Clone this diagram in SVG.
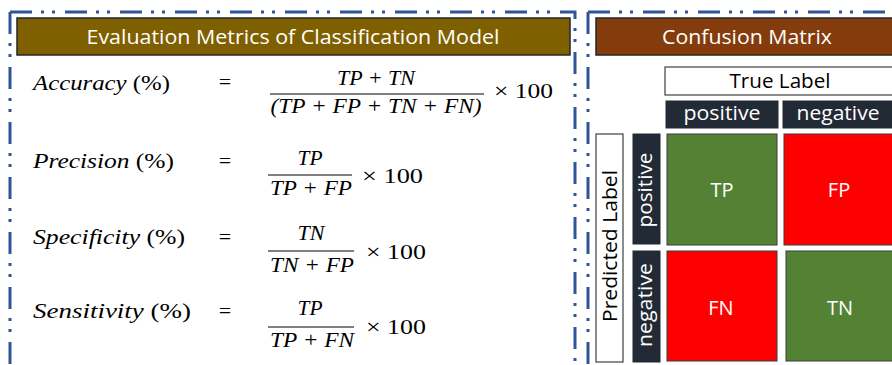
<svg xmlns="http://www.w3.org/2000/svg" width="892" height="365" viewBox="0 0 892 365">
<style>
.panel{fill:none;stroke:#2f5597;stroke-width:3;stroke-dasharray:22 9 3 8 3 10}
.hdr{stroke:#262626;stroke-width:1.5}
.ht{font-family:"Open Sans","Liberation Sans",sans-serif;font-size:20px;fill:#fff;text-anchor:middle}
.lbl{font-family:"Open Sans","Liberation Sans",sans-serif;font-size:20px;fill:#000;text-anchor:middle}
.dk{fill:#222a35;stroke:#222a35;stroke-width:1}
.wt{fill:#fff;stroke:#404040;stroke-width:1.2}
.dt{font-family:"Open Sans","Liberation Sans",sans-serif;font-size:20px;fill:#fff;text-anchor:middle}
.g{fill:#548235;stroke:#3a3a3a;stroke-width:1}
.r{fill:#ff0000;stroke:#3a3a3a;stroke-width:1}
.ct{font-family:"Open Sans","Liberation Sans",sans-serif;font-size:20px;fill:#fff;text-anchor:middle}
.m{font-family:"Liberation Serif","DejaVu Serif",serif;font-size:22px;fill:#000}
.mi{font-style:italic}
.fl{stroke:#000;stroke-width:1}
</style>
<rect width="892" height="365" fill="#fff"/>
<g id="panels">
<path class="panel" d="M10,12 H575 V420"/>
<path class="panel" d="M10,12 V420"/>
<path class="panel" d="M588,12 H900"/>
<path class="panel" d="M588,12 V420"/>
</g>
<g id="metrics-header">
<rect class="hdr" x="17" y="18" width="553" height="37" fill="#7f6000"/>
<text class="ht" x="293" y="44" textLength="413" lengthAdjust="spacingAndGlyphs">Evaluation Metrics of Classification Model</text>
</g>
<g id="accuracy">
<text class="m" x="33" y="90" textLength="137" lengthAdjust="spacingAndGlyphs"><tspan class="mi">Accuracy</tspan> (%)</text>
<text class="m" x="225" y="89" text-anchor="middle">=</text>
<text class="m mi" x="376" y="85" text-anchor="middle" textLength="78" lengthAdjust="spacingAndGlyphs">TP + TN</text>
<line class="fl" x1="270" y1="94" x2="484" y2="94"/>
<text class="m mi" x="376" y="113" text-anchor="middle" textLength="211" lengthAdjust="spacingAndGlyphs">(TP + FP + TN + FN)</text>
<text class="m" x="494" y="98" textLength="59" lengthAdjust="spacingAndGlyphs">× 100</text>
</g>
<g id="precision">
<text class="m" x="33" y="168" textLength="141" lengthAdjust="spacingAndGlyphs"><tspan class="mi">Precision</tspan>  (%)</text>
<text class="m" x="225" y="168" text-anchor="middle">=</text>
<text class="m mi" x="310" y="165" text-anchor="middle" textLength="25" lengthAdjust="spacingAndGlyphs">TP</text>
<line class="fl" x1="268" y1="175" x2="352" y2="175"/>
<text class="m mi" x="311" y="195" text-anchor="middle" textLength="82" lengthAdjust="spacingAndGlyphs">TP + FP</text>
<text class="m" x="362" y="183" textLength="61" lengthAdjust="spacingAndGlyphs">× 100</text>
</g>
<g id="specificity">
<text class="m" x="33" y="244" textLength="152" lengthAdjust="spacingAndGlyphs"><tspan class="mi">Specificity</tspan> (%)</text>
<text class="m" x="225" y="244" text-anchor="middle">=</text>
<text class="m mi" x="311" y="240" text-anchor="middle" textLength="27" lengthAdjust="spacingAndGlyphs">TN</text>
<line class="fl" x1="268" y1="251" x2="354" y2="251"/>
<text class="m mi" x="312" y="272" text-anchor="middle" textLength="84" lengthAdjust="spacingAndGlyphs">TN + FP</text>
<text class="m" x="366" y="259" textLength="60" lengthAdjust="spacingAndGlyphs">× 100</text>
</g>
<g id="sensitivity">
<text class="m" x="33" y="318" textLength="158" lengthAdjust="spacingAndGlyphs"><tspan class="mi">Sensitivity</tspan>  (%)</text>
<text class="m" x="225" y="318" text-anchor="middle">=</text>
<text class="m mi" x="310" y="315" text-anchor="middle" textLength="25" lengthAdjust="spacingAndGlyphs">TP</text>
<line class="fl" x1="268" y1="327" x2="354" y2="327"/>
<text class="m mi" x="312" y="347" text-anchor="middle" textLength="84" lengthAdjust="spacingAndGlyphs">TP + FN</text>
<text class="m" x="366" y="334" textLength="60" lengthAdjust="spacingAndGlyphs">× 100</text>
</g>
<g id="confusion-header">
<rect class="hdr" x="596" y="18" width="310" height="37" fill="#843c0c"/>
<text class="ht" x="747" y="44" textLength="170" lengthAdjust="spacingAndGlyphs">Confusion Matrix</text>
</g>
<g id="true-label">
<rect class="wt" x="665" y="67" width="240" height="28"/>
<text class="lbl" x="780" y="88" textLength="101" lengthAdjust="spacingAndGlyphs">True Label</text>
</g>
<g id="col-positive">
<rect class="dk" x="666" y="101" width="112" height="27"/>
<text class="dt" x="722" y="120" textLength="77" lengthAdjust="spacingAndGlyphs">positive</text>
</g>
<g id="col-negative">
<rect class="dk" x="783" y="101" width="120" height="27"/>
<text class="dt" x="838" y="120" textLength="83" lengthAdjust="spacingAndGlyphs">negative</text>
</g>
<g id="predicted-label">
<rect class="wt" x="596" y="134" width="27" height="228"/>
<text class="lbl" transform="translate(617,246) rotate(-90)" textLength="152" lengthAdjust="spacingAndGlyphs">Predicted Label</text>
</g>
<g id="row-positive">
<rect class="dk" x="633" y="134" width="27" height="110"/>
<text class="dt" transform="translate(652,190) rotate(-90)" textLength="75" lengthAdjust="spacingAndGlyphs">positive</text>
</g>
<g id="row-negative">
<rect class="dk" x="633" y="251" width="27" height="111"/>
<text class="dt" transform="translate(652,305) rotate(-90)" textLength="84" lengthAdjust="spacingAndGlyphs">negative</text>
</g>
<g id="cell-tp">
<rect class="g" x="667" y="134" width="110" height="111"/>
<text class="ct" x="722" y="197">TP</text>
</g>
<g id="cell-fp">
<rect class="r" x="784" y="134" width="120" height="111"/>
<text class="ct" x="839" y="197">FP</text>
</g>
<g id="cell-fn">
<rect class="r" x="667" y="251" width="110" height="110"/>
<text class="ct" x="721" y="315">FN</text>
</g>
<g id="cell-tn">
<rect class="g" x="786" y="251" width="118" height="110"/>
<text class="ct" x="840" y="315">TN</text>
</g>
</svg>
